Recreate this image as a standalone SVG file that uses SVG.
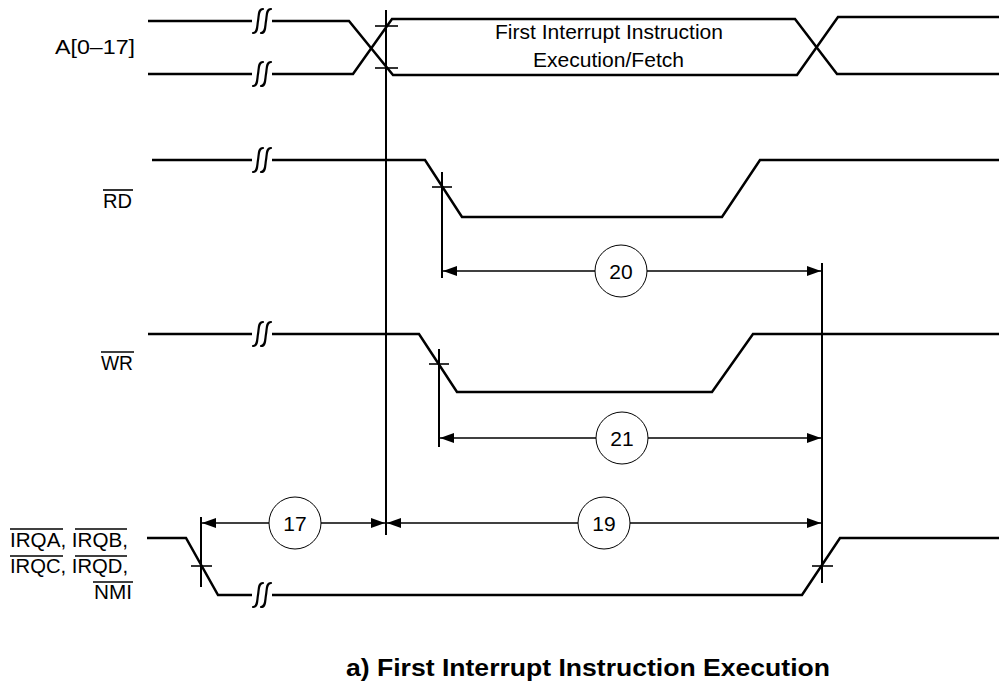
<svg xmlns="http://www.w3.org/2000/svg" width="999" height="688" viewBox="0 0 999 688">
<style>
.sig{fill:none;stroke:#000;stroke-width:2.5;stroke-linejoin:miter}
.ref{fill:none;stroke:#000;stroke-width:2}
.dim{fill:none;stroke:#000;stroke-width:1.6}
.ov{stroke:#000;stroke-width:1.6}
.brk{fill:none;stroke:#000;stroke-width:2.2;stroke-linecap:round}
.num{fill:#fff;stroke:#000;stroke-width:1}
text{font-family:"Liberation Sans",Arial,Helvetica,sans-serif;font-size:20px;fill:#000}
.n{font-size:21px}
.ttl{font-weight:bold;font-size:23px}
</style>
<defs>
<marker id="ah" viewBox="0 0 14 10" refX="14" refY="5" markerWidth="14" markerHeight="10" markerUnits="userSpaceOnUse" orient="auto-start-reverse">
<path d="M0,0 L14,5 L0,10 z" fill="#000"/>
</marker>
<g id="brk">
<rect x="-10" y="-3" width="20" height="6" fill="#fff"/>
<path class="brk" d="M1,-12 C-4,-12 -3,-5 -4,0 C-5,5 -4,12 -9,12"/>
<path class="brk" d="M9,-12 C4,-12 5,-5 4,0 C3,5 4,12 -1,12"/>
</g>
</defs>

<g id="sig-A">
<path class="sig" d="M148,21 L349,21 L393,75 L797,75 L838,17 L999,17"/>
<path class="sig" d="M148,74 L353,74 L392,19 L795,19 L837,74 L999,74"/>
<use href="#brk" x="262" y="21"/>
<use href="#brk" x="262" y="74"/>
<text x="55" y="54" textLength="80" lengthAdjust="spacingAndGlyphs">A[0–17]</text>
<text x="495" y="39" textLength="228" lengthAdjust="spacingAndGlyphs">First Interrupt Instruction</text>
<text x="533" y="67" textLength="151" lengthAdjust="spacingAndGlyphs">Execution/Fetch</text>
</g>

<g id="sig-RD">
<path class="sig" d="M152,160 L425,160 L462,217 L722,217 L760,160 L999,160"/>
<use href="#brk" x="262" y="160"/>
<text x="103" y="208" textLength="29" lengthAdjust="spacingAndGlyphs">RD</text>
<line class="ov" x1="103" y1="190" x2="133" y2="190"/>
</g>

<g id="sig-WR">
<path class="sig" d="M148,334 L419,334 L457,392 L712,392 L753,334 L999,334"/>
<use href="#brk" x="262" y="334"/>
<text x="101" y="370" textLength="32" lengthAdjust="spacingAndGlyphs">WR</text>
<line class="ov" x1="101" y1="352" x2="134" y2="352"/>
</g>

<g id="sig-IRQ">
<path class="sig" d="M147,538 L186,538 L218,595 L802,595 L840,538 L999,538"/>
<use href="#brk" x="262" y="595"/>
<text x="10" y="547" textLength="118" lengthAdjust="spacingAndGlyphs">IRQA, IRQB,</text>
<text x="10" y="573" textLength="118" lengthAdjust="spacingAndGlyphs">IRQC, IRQD,</text>
<text x="94" y="599" textLength="38" lengthAdjust="spacingAndGlyphs">NMI</text>
<line class="ov" x1="10" y1="529" x2="63" y2="529"/>
<line class="ov" x1="75" y1="529" x2="127" y2="529"/>
<line class="ov" x1="10" y1="556" x2="63" y2="556"/>
<line class="ov" x1="75" y1="556" x2="127" y2="556"/>
<line class="ov" x1="93" y1="582" x2="133" y2="582"/>
</g>

<g id="connectors">
<line class="ref" x1="386" y1="10" x2="386" y2="535"/>
<line class="ref" x1="822" y1="263" x2="822" y2="583"/>
<line class="ref" x1="442" y1="172" x2="442" y2="278"/>
<line class="ref" x1="439" y1="349" x2="439" y2="447"/>
<line class="ref" x1="201" y1="517" x2="201" y2="587"/>
<line class="dim" x1="375" y1="26" x2="398" y2="26"/>
<line class="dim" x1="375" y1="68" x2="398" y2="68"/>
<line class="dim" x1="432" y1="187" x2="452" y2="187"/>
<line class="dim" x1="429" y1="364" x2="449" y2="364"/>
<line class="dim" x1="191" y1="566" x2="212" y2="566"/>
<line class="dim" x1="812" y1="566" x2="833" y2="566"/>
<line class="dim" x1="443" y1="271" x2="821" y2="271" marker-start="url(#ah)" marker-end="url(#ah)"/>
<line class="dim" x1="440" y1="438" x2="821" y2="438" marker-start="url(#ah)" marker-end="url(#ah)"/>
<line class="dim" x1="202" y1="523" x2="385" y2="523" marker-start="url(#ah)" marker-end="url(#ah)"/>
<line class="dim" x1="387" y1="523" x2="821" y2="523" marker-start="url(#ah)" marker-end="url(#ah)"/>
</g>

<g id="t20"><circle class="num" cx="621" cy="271" r="26"/><text class="n" x="621" y="279" text-anchor="middle">20</text></g>
<g id="t21"><circle class="num" cx="622" cy="438" r="26"/><text class="n" x="622" y="446" text-anchor="middle">21</text></g>
<g id="t17"><circle class="num" cx="295" cy="523" r="26"/><text class="n" x="295" y="531" text-anchor="middle">17</text></g>
<g id="t19"><circle class="num" cx="604" cy="523" r="26"/><text class="n" x="604" y="531" text-anchor="middle">19</text></g>

<g id="caption">
<text class="ttl" x="346" y="676" textLength="484" lengthAdjust="spacingAndGlyphs">a) First Interrupt Instruction Execution</text>
</g>
</svg>
